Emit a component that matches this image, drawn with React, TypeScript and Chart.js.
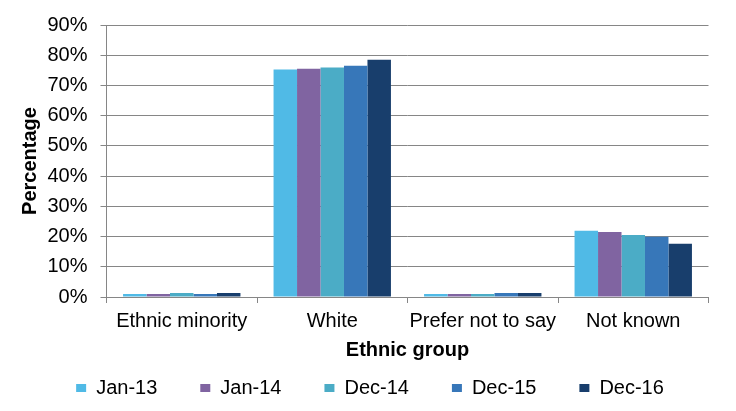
import React, { useEffect, useRef } from "react";
import { Chart, registerables } from "chart.js";

Chart.register(...registerables);

const categories = ["Ethnic minority", "White", "Prefer not to say", "Not known"];
const seriesLabels = ["Jan-13", "Jan-14", "Dec-14", "Dec-15", "Dec-16"];
const jan13 = [1.0, 75.3, 1.0, 21.9];
const jan14 = [1.0, 75.5, 1.0, 21.5];
const dec14 = [1.3, 75.9, 1.0, 20.5];
const dec15 = [1.0, 76.5, 1.3, 19.9];
const dec16 = [1.3, 78.5, 1.3, 17.6];
const seriesColors = ["#50bae6", "#8064a1", "#4bacc6", "#3777b9", "#183e6c"];
const yTitle = "Percentage";
const xTitle = "Ethnic group";

const FONT = "'Liberation Sans', Arial, sans-serif";
const GRID = "#868686";

export default function App() {
  const ref = useRef<HTMLCanvasElement | null>(null);

  useEffect(() => {
    if (!ref.current) return;
    const values = [jan13, jan14, dec14, dec15, dec16];
    const chart = new Chart(ref.current, {
      type: "bar",
      data: {
        labels: categories,
        datasets: values.map((v, i) => ({
          label: seriesLabels[i],
          data: v,
          backgroundColor: seriesColors[i],
          borderWidth: 0,
          categoryPercentage: 0.78,
          barPercentage: 1.0,
        })),
      },
      options: {
        animation: false,
        responsive: true,
        maintainAspectRatio: false,
        layout: { padding: { left: 31.5, right: 27.5, top: 24, bottom: 3 } },
        plugins: {
          tooltip: { enabled: false },
          legend: {
            position: "bottom",
            labels: {
              font: { family: FONT, size: 20 },
              color: "#000",
              boxWidth: 10,
              boxHeight: 8,
              padding: 43,
            },
          },
        },
        scales: {
          x: {
            grid: {
              drawOnChartArea: false,
              drawTicks: true,
              tickLength: 6,
              color: GRID,
              offset: true,
            },
            border: { display: true, color: GRID },
            ticks: {
              font: { family: FONT, size: 20 },
              color: "#000",
              padding: 6,
              maxRotation: 0,
              autoSkip: false,
            },
            title: {
              display: true,
              text: xTitle,
              font: { family: FONT, size: 20, weight: "bold" },
              color: "#000",
              padding: { top: -1, bottom: -27 },
            },
          },
          y: {
            min: 0,
            max: 90,
            afterFit: (scale: any) => {
              scale.width = 75;
            },
            grid: {
              color: GRID,
              tickLength: 6,
              drawTicks: true,
            },
            border: { display: true, color: GRID },
            ticks: {
              stepSize: 10,
              autoSkip: false,
              font: { family: FONT, size: 20 },
              color: "#000",
              padding: 13,
              callback: (v: any) => v + "%",
            },
            title: {
              display: true,
              text: yTitle,
              font: { family: FONT, size: 20, weight: "bold" },
              color: "#000",
              padding: { top: -12.9, bottom: 0 },
            },
          },
        },
      },
    });
    return () => chart.destroy();
  }, []);

  return (
    <div style={{ position: "fixed", left: 0, top: 0, width: 736, height: 411, background: "#fff" }}>
      <canvas ref={ref} />
    </div>
  );
}
